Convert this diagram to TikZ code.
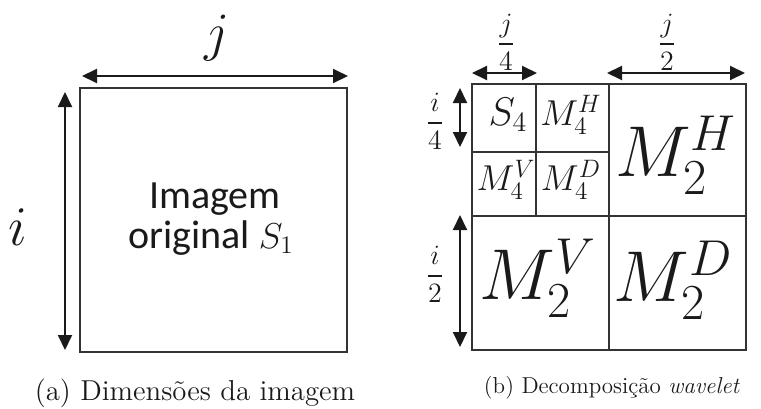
\documentclass[tikz,border=0pt]{standalone}
\usepackage{fix-cm}
\usepackage{amsmath}
\usepackage{fontspec}
\newfontfamily\carlito{Carlito}
\usetikzlibrary{arrows.meta}
\definecolor{lineg}{HTML}{333333}
\definecolor{txtk}{HTML}{1A1A1A}
\newcommand{\fsz}[1]{\fontsize{#1}{#1}\selectfont}

\begin{document}
\begin{tikzpicture}[x=0.5pt, y=-0.5pt,
  >={Triangle[length=7.5pt, width=7pt]},
  frame/.style={draw=lineg, line width=1pt},
  dimarrow/.style={<->, line width=1pt, draw=txtk, fill=txtk},
  lbl/.style={text=txtk, inner sep=0pt}]

\useasboundingbox (0,0) rectangle (761,408);

% ================================================================
% LEFT PANEL: original image
% ================================================================
\coordinate (sq-nw) at (80,88);
\coordinate (sq-se) at (347,352);
\draw[frame] (sq-nw) rectangle (sq-se);

% Width arrow j
\coordinate (jA) at (82,76);
\coordinate (jB) at (348,76);
\draw[dimarrow] (jA) -- (jB);
\node[lbl, font=\fsz{27}] (jlab) at (217,38) {$j$};

% Height arrow i
\coordinate (iA) at (65,92);
\coordinate (iB) at (65,350);
\draw[dimarrow] (iA) -- (iB);
\node[lbl, font=\fsz{28}] (ilab) at (18,227) {$i$};

% Text inside
\node[lbl, font=\carlito\fsz{20}, anchor=base] (img1) at (215,208) {Imagem};
\node[lbl, font=\carlito\fsz{20}, anchor=base] (img2) at (211,248)
  {original \fsz{18}$S_1$};

% Caption
\node[lbl, font=\fsz{14.4}, anchor=base] (capA) at (195,400)
  {(a) Dimensões da imagem};

% ================================================================
% RIGHT PANEL: wavelet decomposition
% ================================================================
\coordinate (gr-nw) at (472,84);
\coordinate (gr-se) at (746,350);
\draw[frame] (gr-nw) rectangle (gr-se);
\draw[frame] (609,84) -- (609,350);
\draw[frame] (472,216) -- (746,216);
\draw[frame] (536,84) -- (536,216);
\draw[frame] (472,152) -- (609,152);

% Cell labels
\node[lbl, font=\fsz{20}] (s4)  at (508,115) {$S_4$};
\node[lbl, font=\fsz{18}] (m4h) at (571,115) {$M_4^H$};
\node[lbl, font=\fsz{18}] (m4v) at (506,180) {$M_4^V$};
\node[lbl, font=\fsz{18}] (m4d) at (571,180) {$M_4^D$};
\node[lbl, font=\fsz{36}] (m2h) at (676,155) {$M_2^H$};
\node[lbl, font=\fsz{36}] (m2v) at (538,278) {$M_2^V$};
\node[lbl, font=\fsz{36}] (m2d) at (673,280) {$M_2^D$};

% Dimension arrows
\coordinate (q1) at (472,73);
\coordinate (q2) at (537,73);
\draw[dimarrow] (q1) -- (q2);
\node[lbl, font=\fsz{14}] (jq) at (506,42) {$\dfrac{j}{4}$};

\coordinate (h1) at (607,73);
\coordinate (h2) at (745,73);
\draw[dimarrow] (h1) -- (h2);
\node[lbl, font=\fsz{14}] (jh) at (667,42) {$\dfrac{j}{2}$};

\coordinate (v1) at (460,88);
\coordinate (v2) at (460,147);
\draw[dimarrow] (v1) -- (v2);
\node[lbl, font=\fsz{14}] (iq) at (435,121) {$\dfrac{i}{4}$};

\coordinate (w1) at (460,215);
\coordinate (w2) at (460,347);
\draw[dimarrow] (w1) -- (w2);
\node[lbl, font=\fsz{14}] (ih) at (435,274) {$\dfrac{i}{2}$};

% Caption
\node[lbl, font=\fsz{11.5}, anchor=base] (capB) at (612,393)
  {(b) Decomposição \textit{wavelet}};

\end{tikzpicture}
\end{document}
